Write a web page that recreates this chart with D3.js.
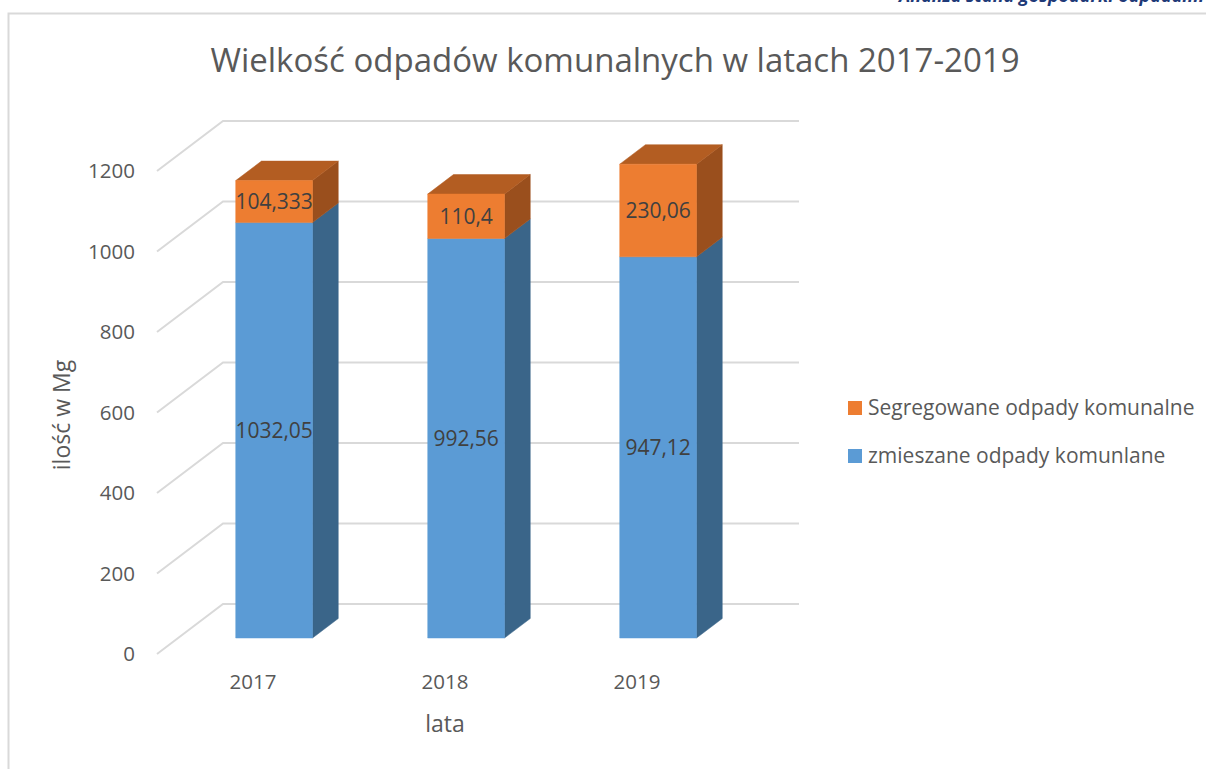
<!DOCTYPE html>
<html>
<head>
<meta charset="utf-8">
<script src="https://cdn.jsdelivr.net/npm/d3@7"></script>
<style>
  body { margin: 0; background: #fff; }
  text { font-family: "Open Sans", sans-serif; }
</style>
</head>
<body>
<script>
// data
var years = ["2017", "2018", "2019"];
var zmieszane = [1032.05, 992.56, 947.12];
var segregowane = [104.333, 110.4, 230.06];
var zmieszaneLabels = ["1032,05", "992,56", "947,12"];
var segregowaneLabels = ["104,333", "110,4", "230,06"];
var yTicks = [0, 200, 400, 600, 800, 1000, 1200];

var W = 1206, H = 769;
var svg = d3.select("body").append("svg")
	.attr("width", W)
	.attr("height", H);

// outer frame
svg.append("rect")
	.attr("x", 8.5).attr("y", 13.5)
	.attr("width", W + 20).attr("height", H + 20)
	.attr("fill", "none")
	.attr("stroke", "#d9d9d9")
	.attr("stroke-width", 2);

// header text at top right (cut by the page edge, as in the source)
svg.append("text")
	.attr("x", 1204).attr("y", 2)
	.attr("text-anchor", "end")
	.attr("font-size", 18)
	.attr("font-weight", "bold")
	.attr("font-style", "italic")
	.attr("fill", "#1f3a78")
	.text("Analiza stanu gospodarki odpadami");

// 3d geometry (oblique)
var x0 = 157, floorY = 654;   // front-left corner of floor
var depthX = 66, depthY = 50; // full depth of the floor
var floorW = 576;
var zFront = 0.32, zBack = 0.71;

var x = d3.scaleBand()
	.domain(years)
	.range([0, floorW])
	.paddingInner(0.6)
	.paddingOuter(0.3);

var h = d3.scaleLinear().domain([0, 1200]).range([0, 483]);
var yFront = d3.scaleLinear().domain([0, 1200]).range([floorY, floorY - 483]);

function pt(px, z, v) {
	return [x0 + px + depthX * z, floorY - depthY * z - h(v)];
}

// gridlines: side diagonal + back wall
var grid = svg.append("g");
yTicks.forEach(function(v) {
	var a = pt(0, 0, v), b = pt(0, 1, v), c = pt(floorW, 1, v);
	grid.append("polyline")
		.attr("points", [a, b, c].map(function(p) { return p.join(","); }).join(" "))
		.attr("fill", "none")
		.attr("stroke", "#d9d9d9")
		.attr("stroke-width", 2);
});

// y axis
var yAxis = svg.append("g")
	.attr("transform", "translate(" + x0 + ",0)")
	.call(d3.axisLeft(yFront).tickValues(yTicks).tickFormat(d3.format("d")).tickSize(0).tickPadding(22));
yAxis.select(".domain").remove();
yAxis.selectAll("text")
	.attr("font-size", 20.5)
	.attr("font-family", "Open Sans")
	.attr("fill", "#595959");

// x axis
var xAxis = svg.append("g")
	.attr("transform", "translate(" + x0 + "," + floorY + ")")
	.call(d3.axisBottom(x).tickSize(0).tickPadding(20));
xAxis.select(".domain").remove();
xAxis.selectAll("text")
	.attr("font-size", 20.5)
	.attr("font-family", "Open Sans")
	.attr("fill", "#595959");

// bars
var series = [
	{ values: zmieszane, labels: zmieszaneLabels, front: "#5b9bd5", side: "#3a6589", top: "#4a80b2" },
	{ values: segregowane, labels: segregowaneLabels, front: "#ed7d31", side: "#9a4f1d", top: "#b35d22" }
];

function poly(g, pts, fill) {
	g.append("polygon")
		.attr("points", pts.map(function(p) { return p.join(","); }).join(" "))
		.attr("fill", fill)
		.attr("stroke", fill)
		.attr("stroke-width", 0.5);
}

var bars = svg.append("g");
years.forEach(function(yr, i) {
	var bx = x(yr), bw = x.bandwidth();
	var base = 0;
	series.forEach(function(s, si) {
		var v0 = base, v1 = base + s.values[i];
		var g = bars.append("g");
		// side face
		poly(g, [pt(bx + bw, zFront, v0), pt(bx + bw, zBack, v0), pt(bx + bw, zBack, v1), pt(bx + bw, zFront, v1)], s.side);
		// top face
		if (si == series.length - 1) {
			poly(g, [pt(bx, zFront, v1), pt(bx + bw, zFront, v1), pt(bx + bw, zBack, v1), pt(bx, zBack, v1)], s.top);
		}
		// front face
		poly(g, [pt(bx, zFront, v0), pt(bx + bw, zFront, v0), pt(bx + bw, zFront, v1), pt(bx, zFront, v1)], s.front);
		// label
		var c = pt(bx + bw / 2, zFront, (v0 + v1) / 2);
		g.append("text")
			.attr("x", c[0]).attr("y", c[1])
			.attr("dy", "0.35em")
			.attr("text-anchor", "middle")
			.attr("font-size", 21)
			.attr("fill", "#404040")
			.text(s.labels[i]);
		base = v1;
	});
});

// titles
svg.append("text")
	.attr("x", 615).attr("y", 72)
	.attr("text-anchor", "middle")
	.attr("font-size", 33)
	.attr("fill", "#595959")
	.text("Wielkość odpadów komunalnych w latach 2017-2019");

svg.append("text")
	.attr("x", 445).attr("y", 732)
	.attr("text-anchor", "middle")
	.attr("font-size", 23)
	.attr("fill", "#595959")
	.text("lata");

svg.append("text")
	.attr("transform", "translate(70,415) rotate(-90)")
	.attr("text-anchor", "middle")
	.attr("font-size", 23)
	.attr("fill", "#595959")
	.text("ilość w Mg");

// legend
var legendNames = ["Segregowane odpady komunalne", "zmieszane odpady komunlane"];
var legendColors = ["#ed7d31", "#5b9bd5"];
var legend = svg.append("g").attr("transform", "translate(848,401)");
legendNames.forEach(function(name, i) {
	var row = legend.append("g").attr("transform", "translate(0," + (i * 48) + ")");
	row.append("rect")
		.attr("width", 14).attr("height", 14)
		.attr("fill", legendColors[i]);
	row.append("text")
		.attr("x", 20).attr("y", 14)
		.attr("font-size", 21)
		.attr("fill", "#595959")
		.text(name);
});
</script>
</body>
</html>
